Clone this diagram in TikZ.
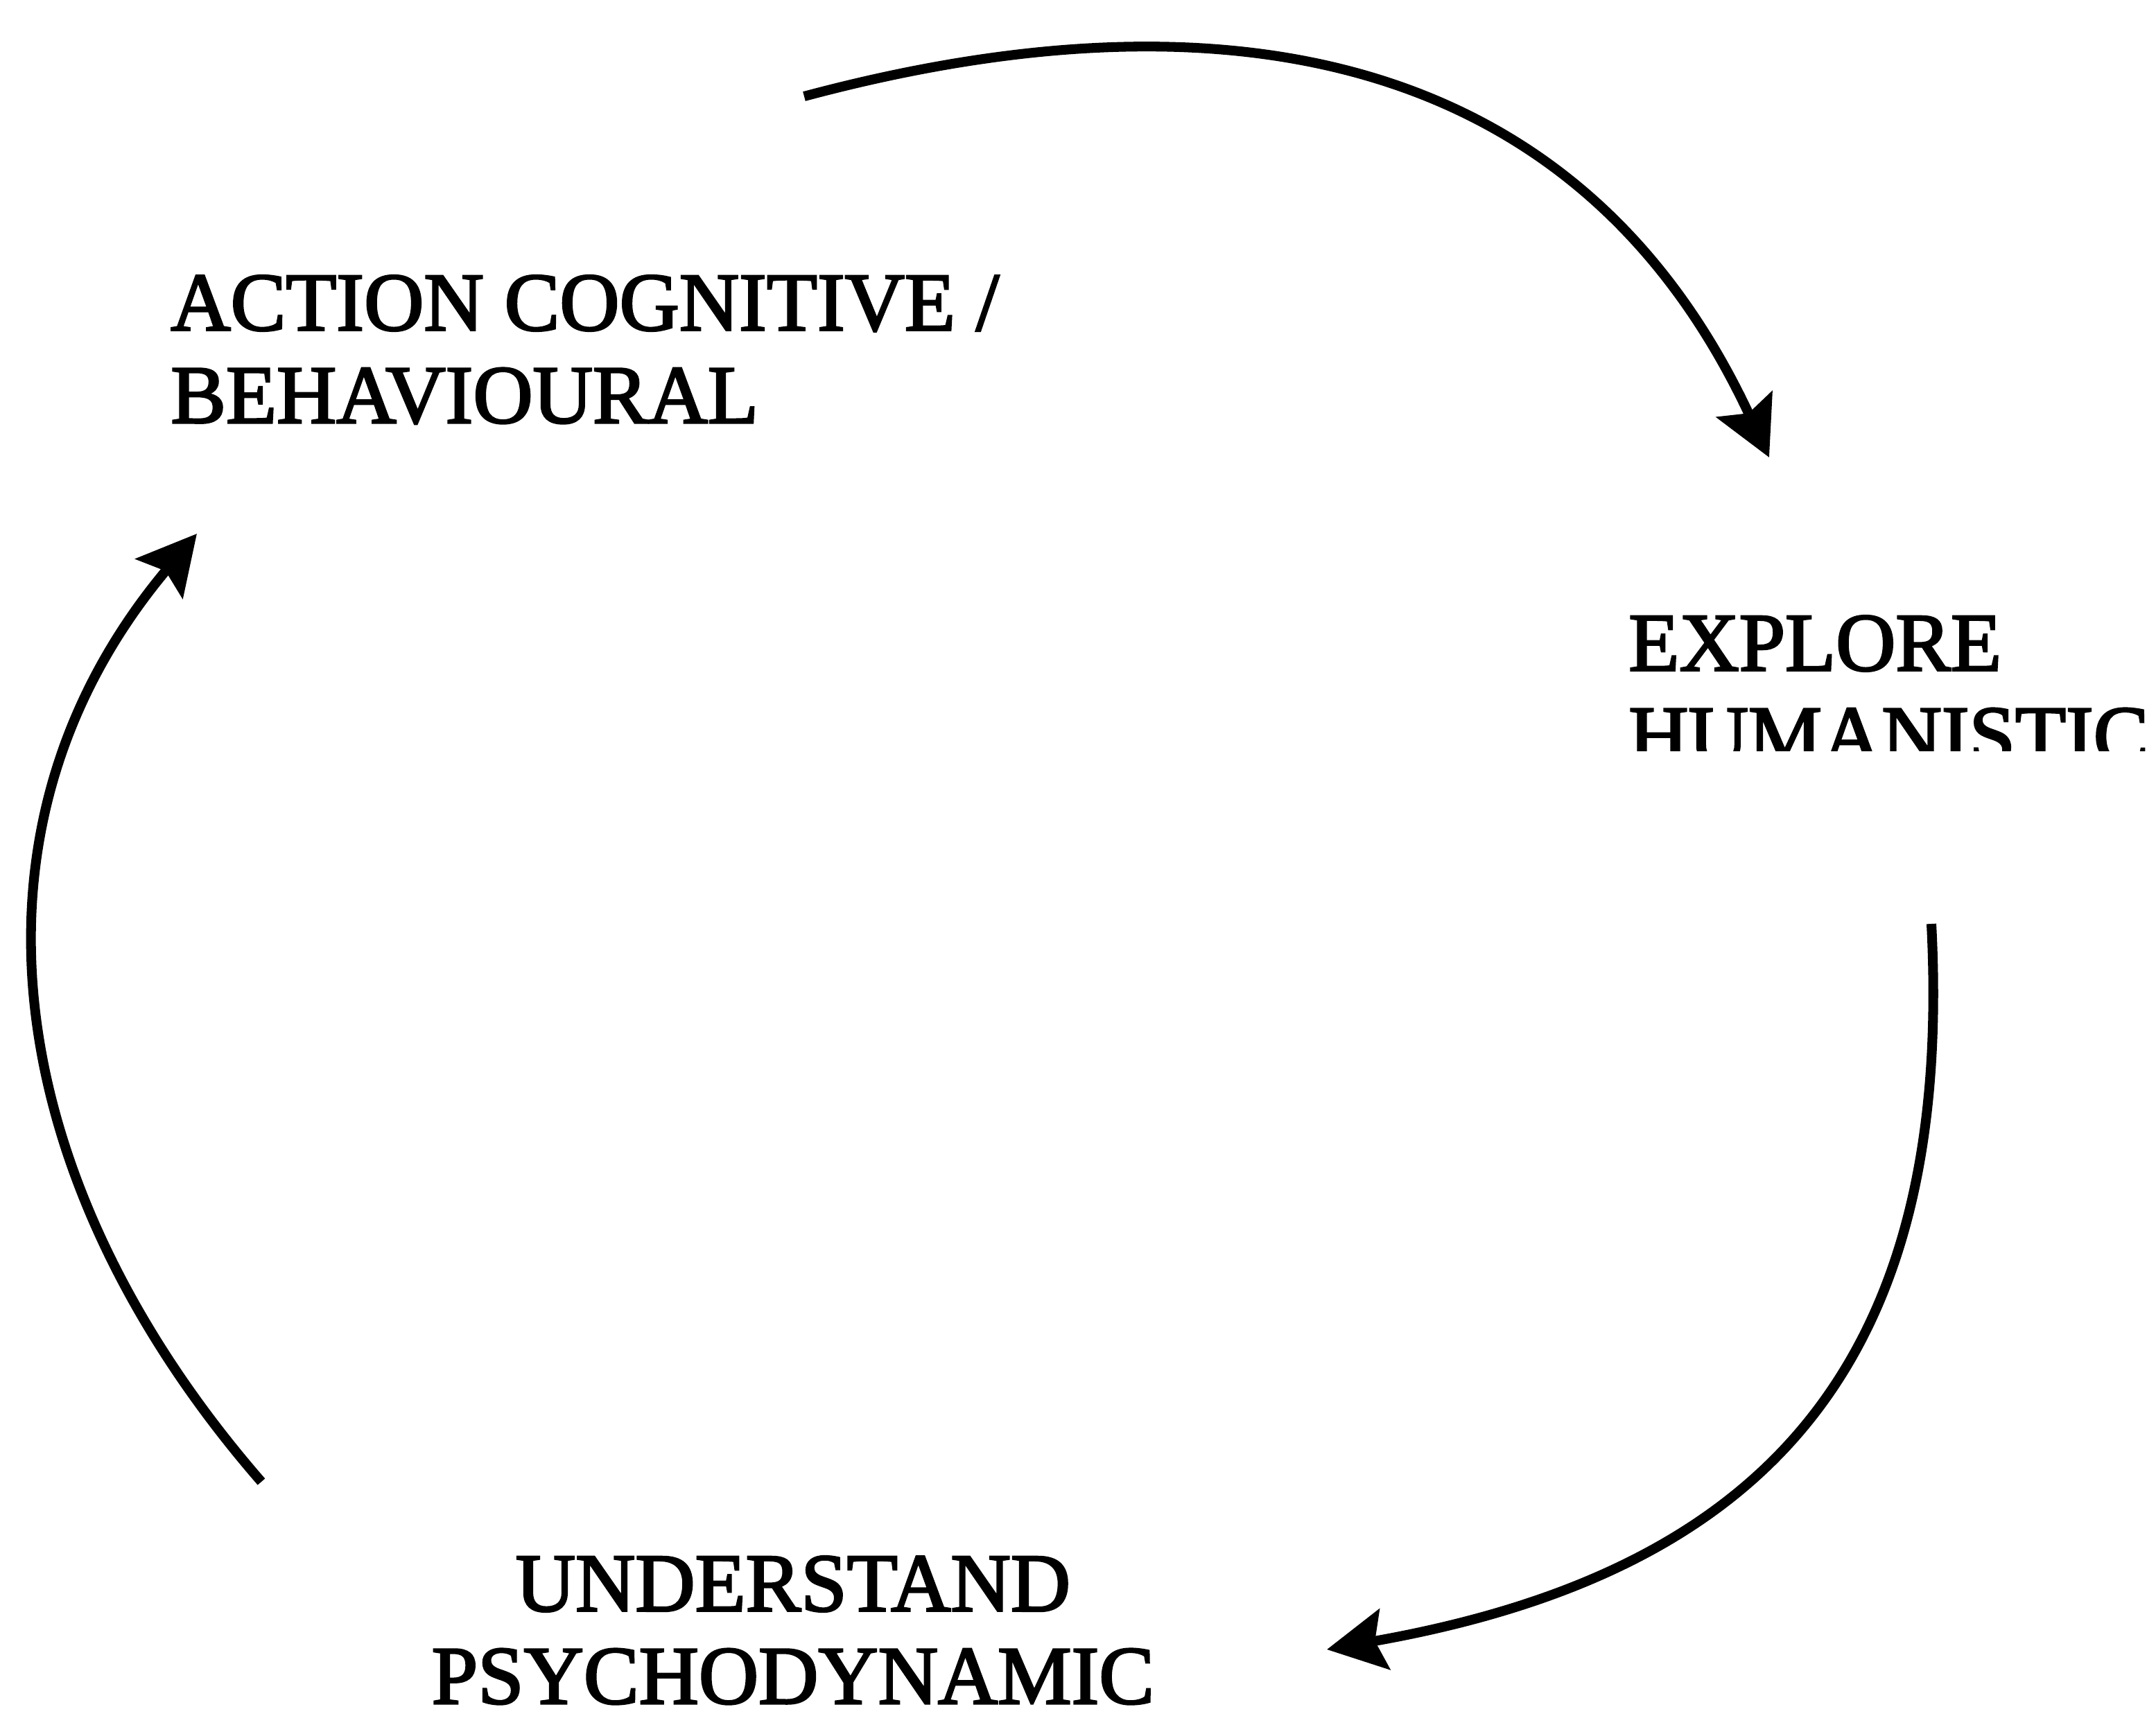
\documentclass[tikz,border=0pt]{standalone}
\usepackage{fontspec}
\setmainfont{Liberation Serif}
\newfontfamily\stagefont{Liberation Serif}[FakeBold=2.5]
\usetikzlibrary{arrows.meta}
\begin{document}
\begin{tikzpicture}[stage/.style={inner sep=0pt, align=left, font=\stagefont\fontsize{17}{19}\selectfont},
    turn/.style={line width=2pt, -{Stealth[length=12pt, width=12.5pt, inset=2pt]}}]
      \useasboundingbox (0,0) rectangle (15.55,-12.375);
      \node[stage, anchor=base west] (1) at (1.225,-3.05) {ACTION COGNITIVE /\\BEHAVIOURAL};
      \begin{scope}
        \clip (11,-4) rectangle (15.55,-5.415);
        \node[stage, anchor=base west] (2) at (11.74,-5.505) {EXPLORE\\HUMANISTIC};
      \end{scope}
      \node[stage, align=center, anchor=base] (3) at (5.72,-12.29) {UNDERSTAND\\PSYCHODYNAMIC};
      \coordinate (1s) at (5.8,-0.695);
      \coordinate (2e) at (12.76,-3.30);
      \coordinate (2s) at (13.93,-6.665);
      \coordinate (3e) at (9.57,-11.9);
      \coordinate (3s) at (1.885,-10.69);
      \coordinate (1e) at (1.42,-3.85);
      \draw[turn] (1s) to[out=15, in=115, looseness=1.1] (2e);
      \draw[turn] (2s) to[out=-87, in=10, looseness=1.2] (3e);
      \draw[turn] (3s) to[out=131, in=230, looseness=1.05] (1e);
\end{tikzpicture}
\end{document}
